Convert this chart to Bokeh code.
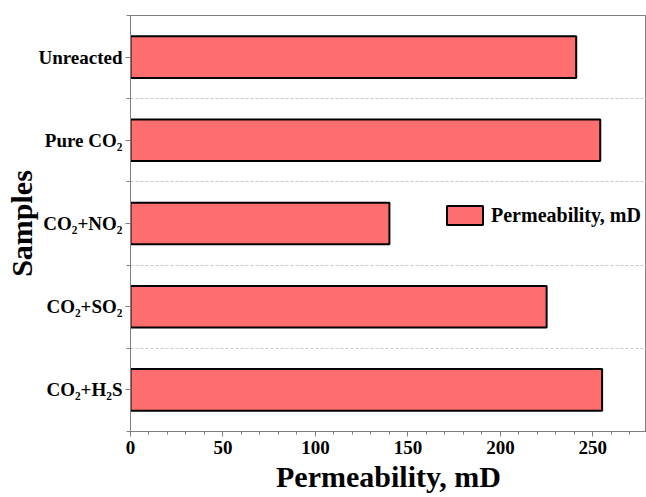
from bokeh.plotting import figure
from bokeh.models import (FixedTicker, SingleIntervalTicker, Legend,
                          LegendItem, ColumnDataSource, Range1d)
from bokeh.embed import file_html
from bokeh.resources import INLINE

# Permeability of each sample (mD), listed top to bottom
samples = ["Unreacted", "Pure CO\u2082", "CO\u2082+NO\u2082", "CO\u2082+SO\u2082", "CO\u2082+H\u2082S"]
permeability = [241, 254, 140, 225, 255]

FONT = "Liberation Serif"
BAR_COLOR = "#FF6E6E"
AXIS_COLOR = "#7f7f7f"

n = len(samples)
positions = [n - 1 - i for i in range(n)]  # first sample on top

source = ColumnDataSource(dict(y=positions, right=permeability, name=samples))

p = figure(width=646, height=497, output_backend="svg", toolbar_location=None,
           x_range=Range1d(0, 279), y_range=Range1d(-0.5, n - 0.5),
           min_border_left=130, min_border_right=0, min_border_top=15,
           min_border_bottom=66, background_fill_color="white",
           border_fill_color="white",
           x_axis_label="Permeability, mD", y_axis_label="Samples")

bars = p.hbar(y="y", left=0, right="right", height=0.5, source=source,
              fill_color=BAR_COLOR, line_color="black", line_width=2)

for ax in (p.xaxis[0], p.yaxis[0]):
    ax.major_label_text_font = FONT
    ax.major_label_text_font_style = "bold"
    ax.major_label_text_font_size = "19px"
    ax.major_label_text_color = "black"
    ax.axis_label_text_font = FONT
    ax.axis_label_text_font_style = "bold"
    ax.axis_label_text_font_size = "30px"
    ax.axis_label_text_color = "black"
    ax.axis_line_color = AXIS_COLOR
    ax.major_tick_line_color = AXIS_COLOR
    ax.minor_tick_line_color = AXIS_COLOR
    ax.major_tick_out = 5
    ax.major_tick_in = 0
    ax.minor_tick_in = 0

# x axis
p.xaxis.ticker = SingleIntervalTicker(interval=50, num_minor_ticks=5)
p.xaxis.major_label_standoff = 4
p.xaxis.minor_tick_out = 3
p.xaxis.axis_label_standoff = 3

# y axis with one tick per sample, minor ticks between samples
p.yaxis.ticker = FixedTicker(ticks=positions,
                             minor_ticks=[k + 0.5 for k in range(-1, n)])
p.yaxis.major_label_overrides = {pos: name for pos, name in zip(positions, samples)}
p.yaxis.major_label_standoff = 3
p.yaxis.minor_tick_out = 4
p.yaxis.axis_label_standoff = -3

# grid: dashed lines between samples only
p.xgrid.grid_line_color = None
p.ygrid.ticker = FixedTicker(ticks=[k + 0.5 for k in range(n - 1)])
p.ygrid.grid_line_color = "#c8c8c8"
p.ygrid.grid_line_dash = "3 2"
p.ygrid.grid_line_width = 1

p.outline_line_color = AXIS_COLOR

# legend
legend = Legend(items=[LegendItem(label="Permeability, mD", renderers=[bars])],
                location=(312, 204), orientation="vertical",
                glyph_width=45, glyph_height=24, label_height=24,
                label_standoff=4, padding=0, margin=0, spacing=0,
                border_line_color=None, background_fill_alpha=0,
                label_text_font=FONT, label_text_font_style="bold",
                label_text_font_size="20px", label_text_color="black")
p.add_layout(legend)

open("out.html", "w").write(file_html(p, INLINE))
